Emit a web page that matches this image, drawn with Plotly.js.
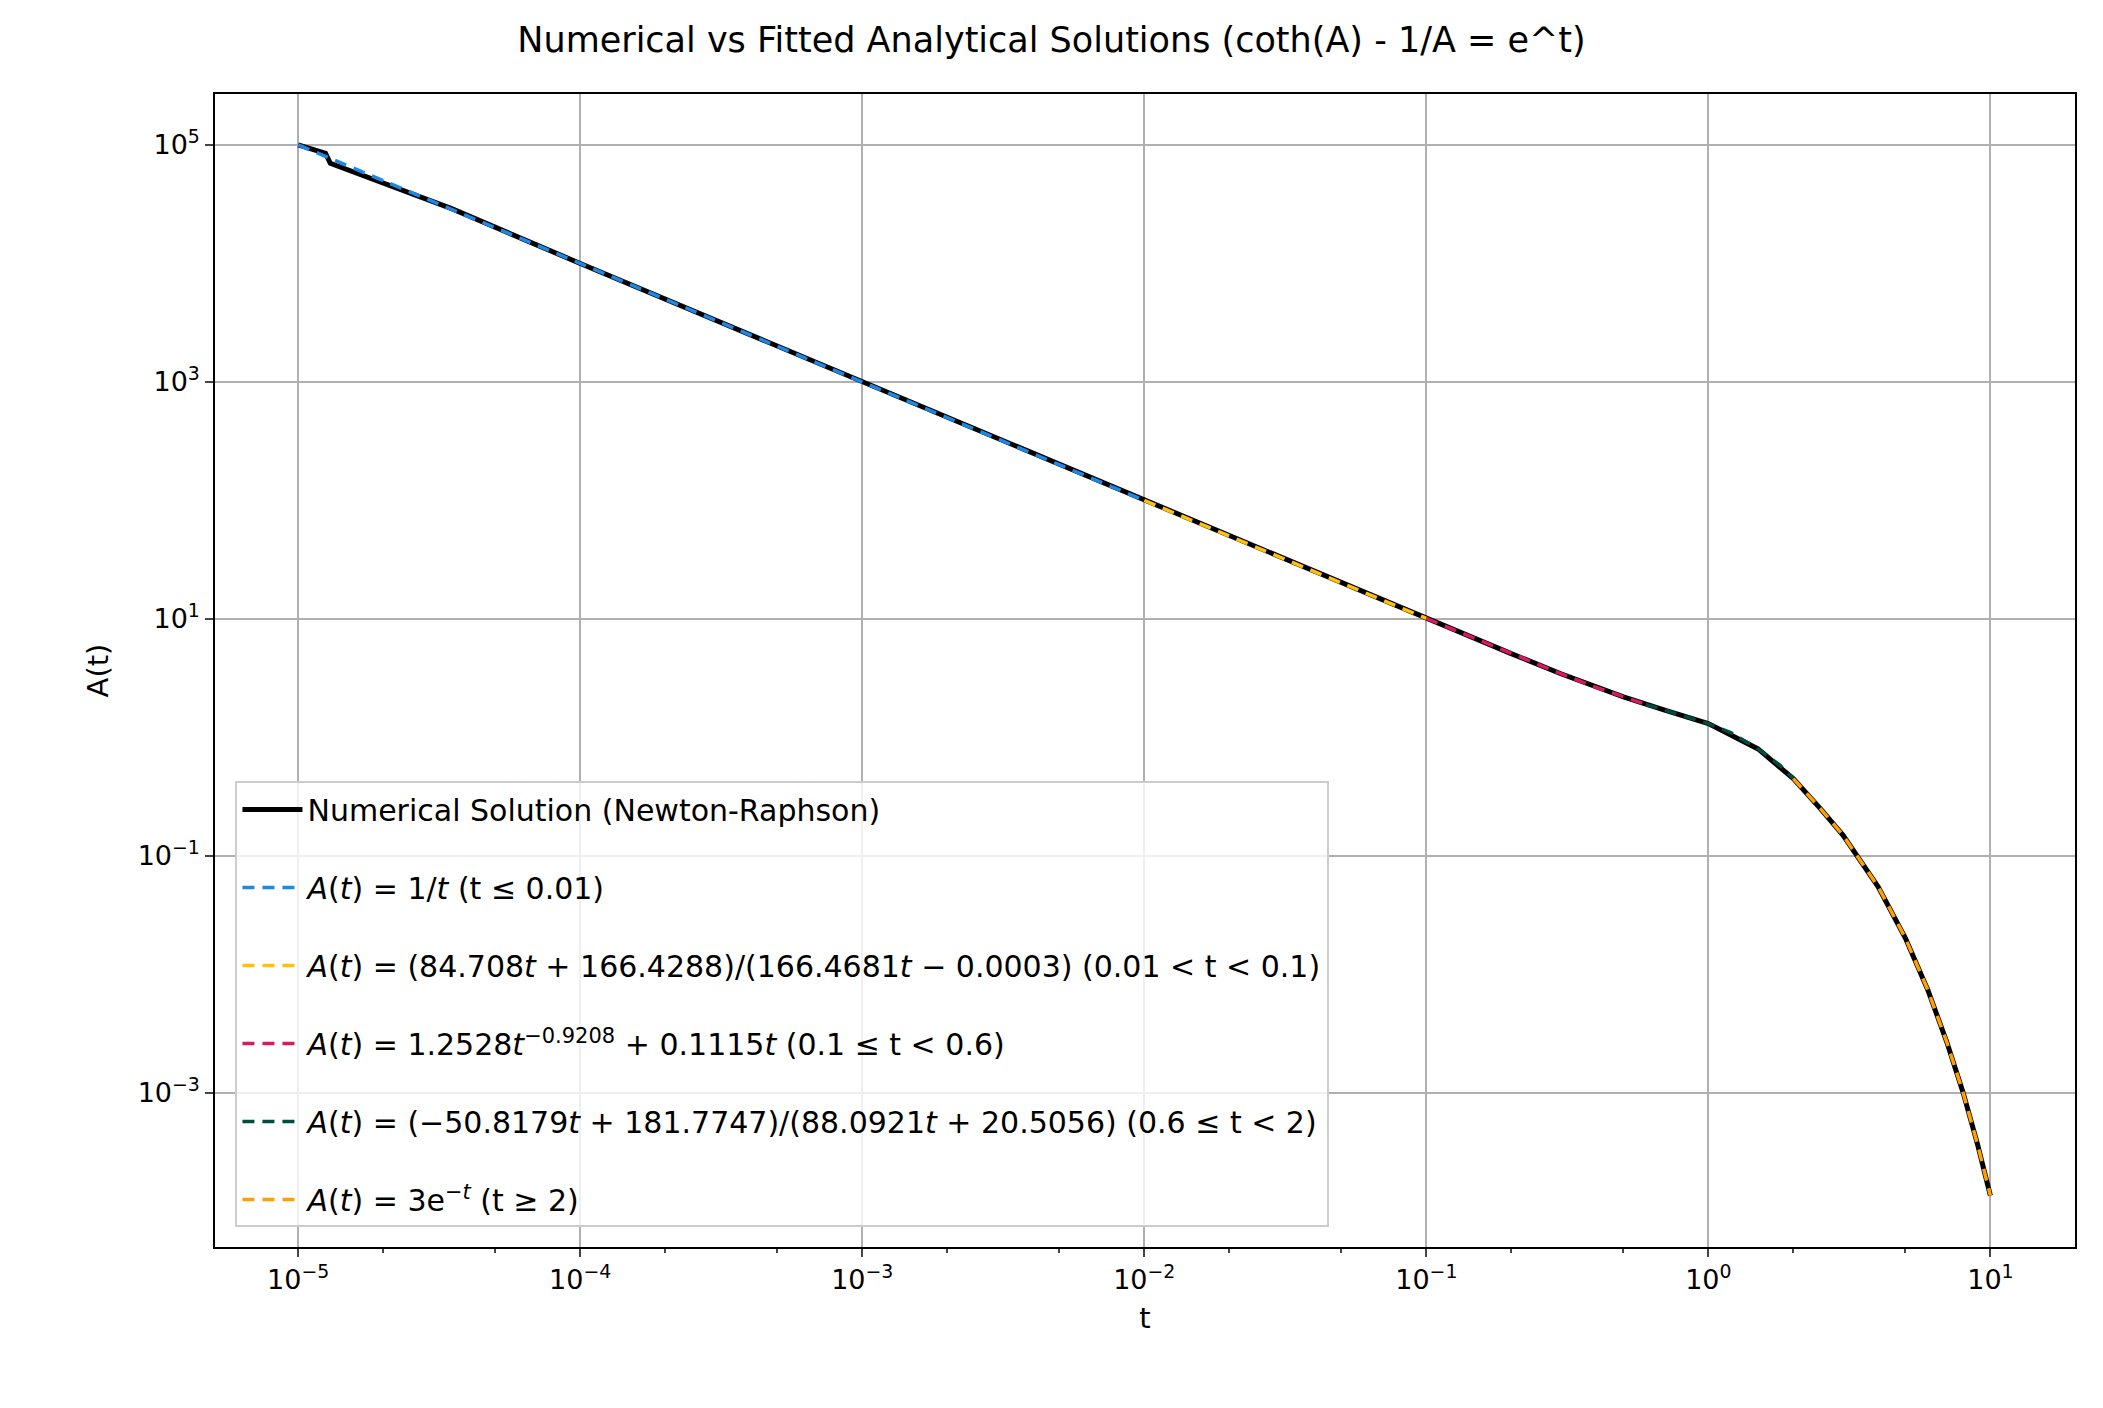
<!DOCTYPE html>
<html>
<head>
<script src="https://cdn.plot.ly/plotly-3.0.1.min.js"></script>
<style>body{margin:0}</style>
</head>
<body>
<div id="myDiv" style="width:2103px;height:1408px"></div>
<script>
// numerical solution
var tNum = [1e-5, 1.25e-5, 1.3e-5, 3.5e-5, 1e-4, 3e-4, 1e-3, 3e-3, 1e-2, 3e-2, 0.1, 0.2, 0.3, 0.5, 0.7, 1, 1.5, 2, 2.5, 3, 4, 5, 6, 7, 8, 9, 10];
var aNum = [1e5, 8.5e4, 7e4, 2.9e4, 1e4, 3333, 1000, 333, 100, 33.4, 10.1, 5.1, 3.45, 2.2, 1.7, 1.31, 0.8, 0.45, 0.25, 0.15, 0.055, 0.0202, 0.0074, 0.0027, 0.00101, 0.00037, 0.000136];

var tFit1 = [1e-5, 1e-4, 1e-3, 1e-2];
var aFit1 = [1e5, 1e4, 1000, 100];
var tFit2 = [0.01, 0.02, 0.05, 0.1];
var aFit2 = [100, 50.4, 20.4, 10.1];
var tFit3 = [0.1, 0.2, 0.3, 0.4, 0.5, 0.6];
var aFit3 = [10.1, 5.1, 3.45, 2.65, 2.2, 1.9];
var tFit4 = [0.6, 0.8, 1, 1.2, 1.5, 1.8, 2];
var aFit4 = [1.9, 1.53, 1.31, 1.1, 0.8, 0.58, 0.45];
var tFit5 = [2, 2.5, 3, 4, 5, 6, 7, 8, 9, 10];
var aFit5 = [0.45, 0.25, 0.15, 0.055, 0.0202, 0.0074, 0.0027, 0.00101, 0.00037, 0.000136];

var xTickVals = [1e-5, 1e-4, 1e-3, 1e-2, 1e-1, 1, 10];
var xTickText = ['10<sup>−5</sup>', '10<sup>−4</sup>', '10<sup>−3</sup>', '10<sup>−2</sup>', '10<sup>−1</sup>', '10<sup>0</sup>', '10<sup>1</sup>'];
var yTickVals = [1e-3, 1e-1, 10, 1e3, 1e5];
var yTickText = ['10<sup>−3</sup>', '10<sup>−1</sup>', '10<sup>1</sup>', '10<sup>3</sup>', '10<sup>5</sup>'];

var names = [
  '<i>A</i>(<i>t</i>) = 1/<i>t</i> (t ≤ 0.01)',
  '<i>A</i>(<i>t</i>) = (84.708<i>t</i> + 166.4288)/(166.4681<i>t</i> − 0.0003) (0.01 &lt; t &lt; 0.1)',
  '<i>A</i>(<i>t</i>) = 1.2528<i>t</i><sup>−0.9208</sup> + 0.1115<i>t</i> (0.1 ≤ t &lt; 0.6)',
  '<i>A</i>(<i>t</i>) = (−50.8179<i>t</i> + 181.7747)/(88.0921<i>t</i> + 20.5056) (0.6 ≤ t &lt; 2)',
  '<i>A</i>(<i>t</i>) = 3e<sup>−<i>t</i></sup> (t ≥ 2)'
];
var colors = ['#1e88e5', '#ffc107', '#d81b60', '#004d40', '#ffa000'];
var tx = [tFit1, tFit2, tFit3, tFit4, tFit5];
var ay = [aFit1, aFit2, aFit3, aFit4, aFit5];

var data = [{x: tNum, y: aNum, mode: 'lines', name: 'Numerical Solution (Newton-Raphson)',
  legendgroup: 'g0', line: {color: 'black', width: 5}}];
for (var i = 0; i < 5; i++) {
  data.push({x: tx[i], y: ay[i], mode: 'lines', name: names[i], legendgroup: 'g' + (i + 1),
    line: {color: colors[i], width: 3.5, dash: '12px,8px'}});
}

var ax = {type: 'log', showline: true, mirror: true, linecolor: 'black', linewidth: 1.5,
  ticks: 'outside', ticklen: 8, tickwidth: 1.5, showgrid: true, gridcolor: '#b0b0b0', gridwidth: 1.5,
  zeroline: false, tickfont: {size: 27}};

var layout = {
  font: {family: 'DejaVu Sans', color: 'black'},
  margin: {l: 215, r: 28, t: 94, b: 161},
  title: {text: 'Numerical vs Fitted Analytical Solutions (coth(A) - 1/A = e^t)', font: {size: 35}, y: 0.972, yanchor: 'middle'},
  xaxis: Object.assign({}, ax, {range: [-5.295, 1.30], tickvals: xTickVals, ticktext: xTickText,
    minor: {ticks: 'outside', ticklen: 4, showgrid: false, dtick: 'D2'},
    title: {text: 't', font: {size: 29}, standoff: 14}}),
  yaxis: Object.assign({}, ax, {range: [-4.30, 5.43], tickvals: yTickVals, ticktext: yTickText,
    title: {text: 'A(t)', font: {size: 29}, standoff: 20}}),
  showlegend: true,
  legend: {x: 0.011, y: 0.017, xanchor: 'left', yanchor: 'bottom', bgcolor: 'rgba(255,255,255,0.8)',
    bordercolor: '#cccccc', borderwidth: 2, font: {size: 30}, tracegroupgap: 36, itemwidth: 60},
  plot_bgcolor: 'white', paper_bgcolor: 'white'
};

Plotly.newPlot('myDiv', data, layout, {displayModeBar: false});
</script>
</body>
</html>
